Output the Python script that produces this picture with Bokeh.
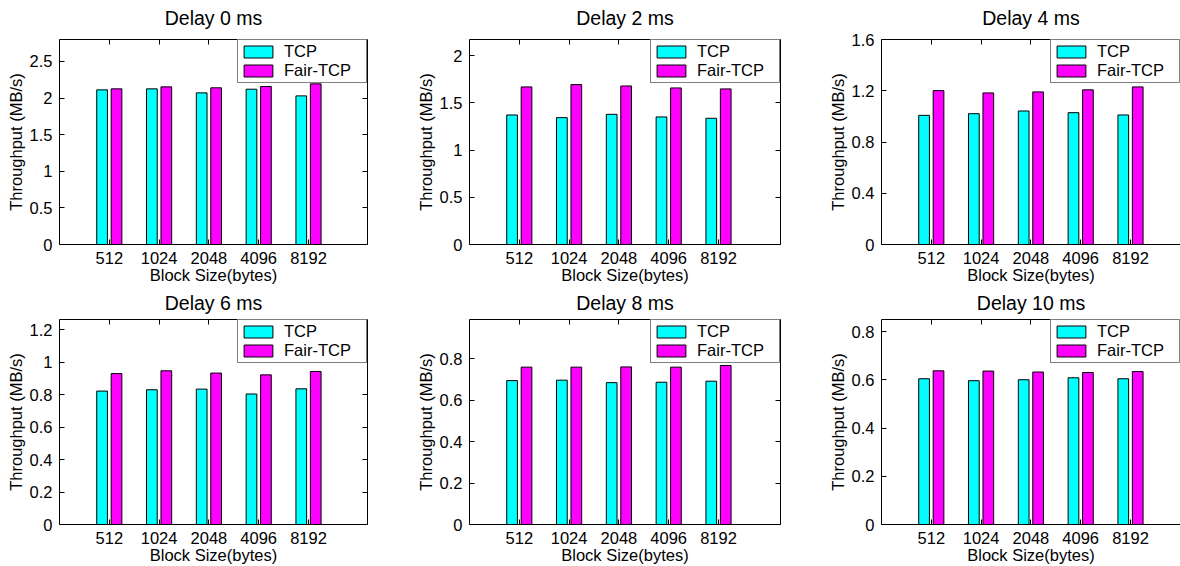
from bokeh.plotting import figure
from bokeh.layouts import row, column
from bokeh.models import (ColumnDataSource, FixedTicker, LinearAxis, Range1d, Legend,
                          LegendItem, CustomJSTickFormatter)
from bokeh.transform import dodge
from bokeh.embed import file_html
from bokeh.resources import INLINE

block_sizes = ["512", "1024", "2048", "4096", "8192"]
titles = ["Delay 0 ms", "Delay 2 ms", "Delay 4 ms", "Delay 6 ms", "Delay 8 ms", "Delay 10 ms"]
x_label = "Block Size(bytes)"
y_label = "Throughput (MB/s)"

tcp_d0 = [2.112, 2.126, 2.071, 2.121, 2.030]
fair_d0 = [2.126, 2.153, 2.140, 2.158, 2.194]
tcp_d2 = [1.371, 1.343, 1.378, 1.350, 1.336]
fair_d2 = [1.668, 1.693, 1.678, 1.657, 1.647]
tcp_d4 = [1.008, 1.021, 1.042, 1.029, 1.011]
fair_d4 = [1.201, 1.183, 1.191, 1.207, 1.230]
tcp_d6 = [0.822, 0.830, 0.834, 0.804, 0.836]
fair_d6 = [0.930, 0.947, 0.933, 0.922, 0.943]
tcp_d8 = [0.695, 0.697, 0.685, 0.687, 0.692]
fair_d8 = [0.760, 0.760, 0.761, 0.760, 0.768]
tcp_d10 = [0.605, 0.597, 0.601, 0.609, 0.605]
fair_d10 = [0.638, 0.637, 0.633, 0.631, 0.635]

y_max = [2.80, 2.17, 1.60, 1.263, 0.99, 0.851]
y_ticks = [
    [0, 0.5, 1, 1.5, 2, 2.5],
    [0, 0.5, 1, 1.5, 2],
    [0, 0.4, 0.8, 1.2, 1.6],
    [0, 0.2, 0.4, 0.6, 0.8, 1, 1.2],
    [0, 0.2, 0.4, 0.6, 0.8],
    [0, 0.2, 0.4, 0.6, 0.8],
]

tcp_all = [tcp_d0, tcp_d2, tcp_d4, tcp_d6, tcp_d8, tcp_d10]
fair_all = [fair_d0, fair_d2, fair_d4, fair_d6, fair_d8, fair_d10]

FONT = "Liberation Sans"
FS = "16.5px"
FRAME_W = [308, 311, 299]
FRAME_H = [205, 205]
PX_PER_UNIT = 49.8
LEFT = 59
RIGHT = [43, 42, 0]
TOP = [39, 31]
BOTTOM = [44, 42]
TITLE_STANDOFF = [11, 6]

xfmt_code = "return labels[Math.round(tick) - 1] || '';"
yfmt_code = "return String(Math.round(tick * 10) / 10);"


def style_axis(ax):
    ax.major_tick_in = 5
    ax.major_tick_out = 0
    ax.minor_tick_line_color = None
    ax.axis_line_color = "black"
    ax.major_tick_line_color = "black"
    ax.major_label_text_font = FONT
    ax.major_label_text_font_size = FS
    ax.major_label_text_color = "black"
    ax.axis_label_text_font = FONT
    ax.axis_label_text_font_size = FS
    ax.axis_label_text_font_style = "normal"
    ax.axis_label_text_color = "black"


def make_panel(i):
    r, c = divmod(i, 3)
    fw = FRAME_W[c]
    fh = FRAME_H[r]
    x_end = fw / PX_PER_UNIT
    p = figure(width=LEFT + fw + RIGHT[c], height=TOP[r] + fh + BOTTOM[r],
               x_range=Range1d(0, x_end), y_range=Range1d(0, y_max[i]),
               output_backend="svg", toolbar_location=None,
               min_border_left=LEFT, min_border_right=RIGHT[c],
               min_border_top=TOP[r], min_border_bottom=BOTTOM[r])
    p.outline_line_color = None
    p.grid.visible = False
    p.background_fill_color = "white"
    p.border_fill_color = "white"

    src = ColumnDataSource(dict(x=[1, 2, 3, 4, 5], tcp=tcp_all[i], fair=fair_all[i]))
    r1 = p.vbar(x=dodge("x", -0.145, range=p.x_range), top="tcp", bottom=0, width=0.215,
                source=src, fill_color="#00FFFF", line_color="black", line_width=1)
    r2 = p.vbar(x=dodge("x", 0.145, range=p.x_range), top="fair", bottom=0, width=0.215,
                source=src, fill_color="#FF00FF", line_color="black", line_width=1)

    p.xaxis.ticker = FixedTicker(ticks=[1, 2, 3, 4, 5])
    p.xaxis.formatter = CustomJSTickFormatter(args=dict(labels=block_sizes), code=xfmt_code)
    p.xaxis.axis_label = x_label
    p.xaxis.major_label_standoff = 7
    p.xaxis.axis_label_standoff = -1
    p.yaxis.ticker = FixedTicker(ticks=y_ticks[i])
    p.yaxis.formatter = CustomJSTickFormatter(code=yfmt_code)
    p.yaxis.axis_label = y_label
    p.yaxis.major_label_standoff = 7
    p.yaxis.axis_label_standoff = 2
    style_axis(p.xaxis[0])
    style_axis(p.yaxis[0])

    # top border axis (inward ticks) carrying the panel title
    top_ax = LinearAxis(ticker=FixedTicker(ticks=[1, 2, 3, 4, 5]),
                        formatter=CustomJSTickFormatter(code="return '';"),
                        axis_label=titles[i])
    style_axis(top_ax)
    top_ax.major_label_standoff = 0
    top_ax.axis_label_standoff = TITLE_STANDOFF[r]
    top_ax.axis_label_text_font_size = "19.5px"
    p.add_layout(top_ax, "above")
    if c < 2:
        right_ax = LinearAxis(ticker=FixedTicker(ticks=y_ticks[i]),
                              formatter=CustomJSTickFormatter(code="return '';"))
        style_axis(right_ax)
        right_ax.major_label_standoff = 0
        p.add_layout(right_ax, "right")

    legend = Legend(items=[LegendItem(label="TCP", renderers=[r1]),
                           LegendItem(label="Fair-TCP", renderers=[r2])],
                    location="top_right", border_line_color="black", border_line_width=1,
                    background_fill_color="white", background_fill_alpha=1,
                    padding=2, spacing=0, margin=0, glyph_width=36, glyph_height=15,
                    label_standoff=8, label_width=80, label_height=17,
                    label_text_font=FONT, label_text_font_size=FS, label_text_color="black")
    p.add_layout(legend)
    return p


panels = [make_panel(i) for i in range(6)]
layout = column(row(*panels[:3]), row(*panels[3:]))
open("out.html", "w").write(file_html(layout, INLINE))
